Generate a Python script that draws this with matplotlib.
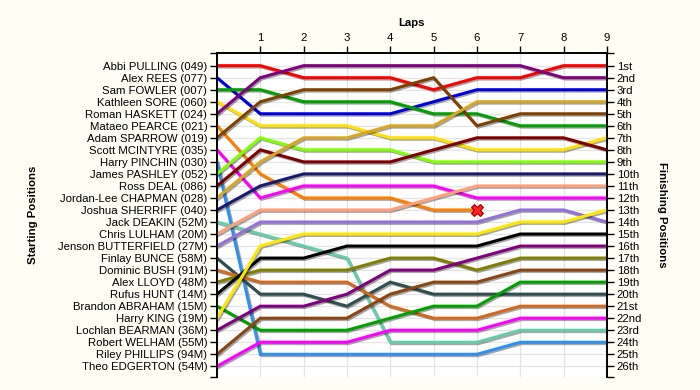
import matplotlib.pyplot as plt
import matplotlib.patheffects as pe

# Lap numbers (0 = grid)
laps = [0, 1, 2, 3, 4, 5, 6, 7, 8, 9]

# Drivers in starting order
drivers = ["Abbi PULLING (049)", "Alex REES (077)", "Sam FOWLER (007)",
           "Kathleen SORE (060)", "Roman HASKETT (024)", "Mataeo PEARCE (021)",
           "Adam SPARROW (019)", "Scott MCINTYRE (035)", "Harry PINCHIN (030)",
           "James PASHLEY (052)", "Ross DEAL (086)", "Jordan-Lee CHAPMAN (028)",
           "Joshua SHERRIFF (040)", "Jack DEAKIN (52M)", "Chris LULHAM (20M)",
           "Jenson BUTTERFIELD (27M)", "Finlay BUNCE (58M)", "Dominic BUSH (91M)",
           "Alex LLOYD (48M)", "Rufus HUNT (14M)", "Brandon ABRAHAM (15M)",
           "Harry KING (19M)", "Lochlan BEARMAN (36M)", "Robert WELHAM (55M)",
           "Riley PHILLIPS (94M)", "Theo EDGERTON (54M)"]

# Position at the end of each lap (lap 0 = starting position)
positions = [
    [1, 1, 2, 2, 2, 3, 2, 2, 1, 1],
    [2, 5, 5, 5, 5, 4, 3, 3, 3, 3],
    [3, 3, 4, 4, 4, 5, 5, 6, 6, 6],
    [4, 6, 6, 6, 7, 7, 8, 8, 8, 7],
    [5, 2, 1, 1, 1, 1, 1, 1, 2, 2],
    [6, 10, 12, 12, 12, 13, 13],          # retired after lap 6
    [7, 4, 3, 3, 3, 2, 6, 5, 5, 5],
    [8, 12, 11, 11, 11, 11, 12, 12, 12, 12],
    [9, 25, 25, 25, 25, 25, 25, 24, 24, 24],
    [10, 7, 8, 8, 8, 9, 9, 9, 9, 9],
    [11, 8, 9, 9, 9, 8, 7, 7, 7, 8],
    [12, 9, 7, 7, 6, 6, 4, 4, 4, 4],
    [13, 11, 10, 10, 10, 10, 10, 10, 10, 10],
    [14, 15, 16, 17, 24, 24, 24, 23, 23, 23],
    [15, 13, 13, 13, 13, 12, 11, 11, 11, 11],
    [16, 14, 14, 14, 14, 14, 14, 13, 13, 14],
    [17, 20, 20, 21, 19, 20, 20, 20, 20, 20],
    [18, 19, 19, 19, 21, 22, 22, 21, 21, 21],
    [19, 18, 18, 18, 17, 17, 18, 17, 17, 17],
    [20, 17, 17, 16, 16, 16, 16, 15, 15, 15],
    [21, 23, 23, 23, 22, 21, 21, 19, 19, 19],
    [22, 16, 15, 15, 15, 15, 15, 14, 14, 13],
    [23, 21, 21, 20, 18, 18, 17, 16, 16, 16],
    [],                                     # did not start
    [25, 22, 22, 22, 20, 19, 19, 18, 18, 18],
    [26, 24, 24, 24, 23, 23, 23, 22, 22, 22],
]
retired = [5]

finish_labels = ["1st", "2nd", "3rd"] + ["%dth" % i for i in range(4, 21)] + \
                ["21st", "22nd", "23rd", "24th", "25th", "26th"]

colors = ["#ff0000", "#0000e0", "#00a000", "#ffe000", "#800080", "#ff8000",
          "#804000", "#ff00ff", "#3090f0", "#80ff00", "#800000", "#daa520",
          "#191970", "#66cdaa", "#ffa07a", "#9370db", "#2f4f4f", "#d2691e",
          "#808000", "#000000", "#00a000", "#ffe600", "#800080", "#888888",
          "#8b4513", "#ff00ff"]

font = "Liberation Sans"
fs = 8.2

fig = plt.figure(figsize=(7, 3.9), dpi=100, facecolor="#fffef4")
ax = fig.add_axes([0.31, 0.033, 0.557, 0.831])
ax.set_facecolor("white")

shadow = [pe.SimpleLineShadow(offset=(1, -1), shadow_color="black", alpha=0.35),
          pe.Normal()]

for i, pos in enumerate(positions):
    if not pos:
        continue
    ax.plot(laps[:len(pos)], pos, color=colors[i], lw=2.2,
            solid_joinstyle="miter", path_effects=shadow, zorder=3)
    if i in retired:
        ax.plot(laps[len(pos) - 1], pos[-1], marker="X", ms=9,
                color="#ff2020", mec="#a00000", mew=0.8, zorder=4)

n = len(drivers)
ax.set_xlim(0, 9)
ax.set_ylim(n + 0.9, -0.05)

# Top lap axis
ax.xaxis.tick_top()
ax.set_xticks(laps[1:])
ax.set_xticklabels([str(l) for l in laps[1:]], fontsize=fs, family=font)
ax.set_xlabel("Laps", fontsize=fs, family=font, fontweight="bold", labelpad=5)
ax.xaxis.set_label_position("top")

# Left: starting positions
ax.set_yticks(range(1, n + 1))
ax.set_yticklabels(drivers, fontsize=fs, family=font)
ax.set_yticks([-0.05, n + 0.9], minor=True)
ax.set_ylabel("Starting Positions", fontsize=fs, family=font,
              fontweight="bold", labelpad=14)

# Right: finishing positions
ax2 = ax.twinx()
ax2.set_ylim(ax.get_ylim())
ax2.set_yticks(range(1, n + 1))
ax2.set_yticklabels(finish_labels, fontsize=fs, family=font)
ax2.set_yticks([-0.05, n + 0.9], minor=True)
ax2.set_ylabel("Finishing Positions", fontsize=fs, family=font,
               fontweight="bold", rotation=270, labelpad=18)

for a in (ax, ax2):
    a.spines["bottom"].set_visible(False)
    a.tick_params(which="both", length=5, width=1, pad=2, colors="black")
    for s in a.spines.values():
        s.set_linewidth(1.2)

ax.grid(True, color="#e4e4e4", lw=0.9, zorder=0)
ax.set_axisbelow(True)

plt.savefig("out.png", dpi=100, facecolor=fig.get_facecolor())
